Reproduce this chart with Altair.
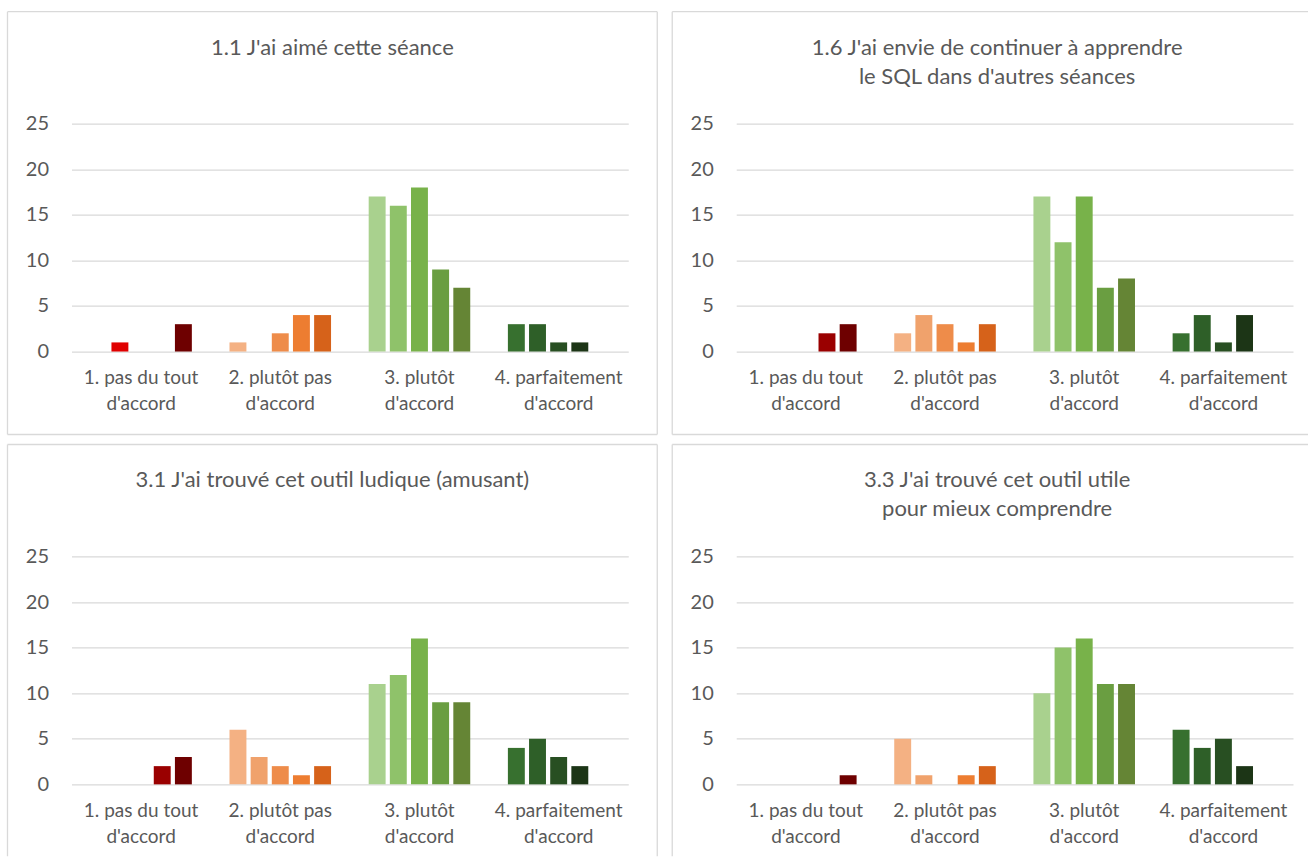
import altair as alt
import pandas as pd

# ---------------- data ----------------
categories = [
    "1. pas du tout|d'accord",
    "2. plutôt pas|d'accord",
    "3. plutôt|d'accord",
    "4. parfaitement|d'accord",
]
slots = ["s1", "s2", "s3", "s4", "s5"]

titles = [
    ["1.1 J'ai aimé cette séance"],
    ["1.6 J'ai envie de continuer à apprendre", "le SQL dans d'autres séances"],
    ["3.1 J'ai trouvé cet outil ludique (amusant)"],
    ["3.3 J'ai trouvé cet outil utile", "pour mieux comprendre"],
]

# values[category][slot]
values_11 = [[0, 1, 0, 0, 3], [1, 0, 2, 4, 4], [17, 16, 18, 9, 7], [3, 3, 1, 1, 0]]
values_16 = [[0, 0, 0, 2, 3], [2, 4, 3, 1, 3], [17, 12, 17, 7, 8], [2, 4, 1, 4, 0]]
values_31 = [[0, 0, 0, 2, 3], [6, 3, 2, 1, 2], [11, 12, 16, 9, 9], [4, 5, 3, 2, 0]]
values_33 = [[0, 0, 0, 0, 1], [5, 1, 0, 1, 2], [10, 15, 16, 11, 11], [6, 4, 5, 2, 0]]

y_ticks = [0, 5, 10, 15, 20, 25]

# ---------------- styles ----------------
palette = [
    ["#FF3B3B", "#E00000", "#C00000", "#9A0000", "#6E0000"],
    ["#F4B183", "#F0A26C", "#EE8C4A", "#ED7D31", "#D6621A"],
    ["#A9D18E", "#8FC26A", "#78B24A", "#6A9E41", "#658535"],
    ["#37702F", "#2E5F28", "#284F22", "#1C3516", "#132810"],
]
color_keys = [f"{ci}-{si}" for ci in range(len(categories)) for si in range(len(slots))]
color_range = [palette[ci][si] for ci in range(len(categories)) for si in range(len(slots))]

W, H = 557, 228
GRID = "#D9D9D9"
TEXT = "#595959"
FONT = "Lato"
BORDER_W = 1.3


def seg(x1, x2, y1, y2):
    return alt.Chart(alt.Data(values=[{}])).mark_rule(
        color=GRID, strokeWidth=BORDER_W
    ).encode(x=alt.value(x1), x2=alt.value(x2), y=alt.value(y1), y2=alt.value(y2))


def panel(title_lines, values, right_end, bottom_end, draw_right, draw_bottom):
    rows = []
    for ci, cat in enumerate(categories):
        for si, s in enumerate(slots):
            rows.append({"cat": cat, "slot": s, "value": values[ci][si], "key": f"{ci}-{si}"})
    df = pd.DataFrame(rows)

    bars = alt.Chart(df).mark_bar().encode(
        x=alt.X(
            "cat:N",
            sort=categories,
            title=None,
            scale=alt.Scale(paddingInner=0.24, paddingOuter=0.12),
            axis=alt.Axis(
                labelExpr="split(datum.label, '|')",
                labelAngle=0,
                domain=False,
                ticks=False,
                tickSize=0,
                grid=False,
                labelPadding=17,
                labelLineHeight=26,
                labelFontSize=19,
                labelColor=TEXT,
                labelFont=FONT,
                labelOverlap=False,
                labelLimit=300,
            ),
        ),
        xOffset=alt.XOffset("slot:N", sort=slots, scale=alt.Scale(paddingInner=0.2, paddingOuter=0.1)),
        y=alt.Y(
            "value:Q",
            title=None,
            scale=alt.Scale(domain=[0, 25], nice=False),
            axis=alt.Axis(
                values=y_ticks,
                domain=False,
                ticks=False,
                tickSize=0,
                grid=True,
                gridColor=GRID,
                gridWidth=1.3,
                labelPadding=23,
                labelFontSize=20,
                labelColor=TEXT,
                labelFont=FONT,
            ),
        ),
        color=alt.Color("key:N", scale=alt.Scale(domain=color_keys, range=color_range), legend=None),
    )

    title = alt.Chart(alt.Data(values=[{}])).mark_text(
        text=title_lines,
        font=FONT,
        fontSize=22,
        color=TEXT,
        align="center",
        baseline="alphabetic",
        lineHeight=29,
    ).encode(x=alt.value(261), y=alt.value(-69))

    layers = [bars, title]
    left, top = -64, -112
    layers.append(seg(left, right_end, top, top))          # top edge
    layers.append(seg(left, left, top, bottom_end))        # left edge
    if draw_right:
        layers.append(seg(right_end, right_end, top, bottom_end))
    if draw_bottom:
        layers.append(seg(left, right_end, bottom_end, bottom_end))

    return alt.layer(*layers).properties(width=W, height=H)


p1 = panel(titles[0], values_11, 586, 311, True, True)
p2 = panel(titles[1], values_16, 572, 311, False, True)
p3 = panel(titles[2], values_31, 586, 300, True, False)
p4 = panel(titles[3], values_33, 572, 300, False, False)

chart = alt.concat(
    p1, p2, p3, p4,
    columns=2,
    spacing={"row": 205, "column": 108},
    bounds="flush",
).properties(
    padding={"left": 6.5, "top": 10.5, "right": 0, "bottom": 0},
    background="white",
).configure_view(stroke=None)

chart.save("out.html", embed_options={"renderer": "svg", "actions": False})
